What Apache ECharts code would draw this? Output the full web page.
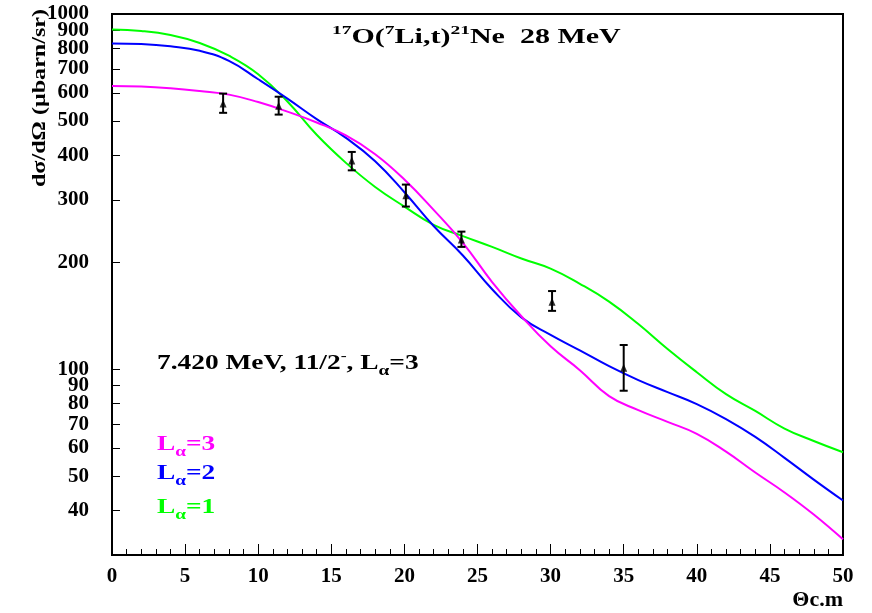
<!DOCTYPE html>
<html>
<head>
<meta charset="utf-8">
<script src="https://cdn.jsdelivr.net/npm/echarts@6/dist/echarts.min.js"></script>
<style>
  html, body { margin: 0; padding: 0; background: #fff; }
  #chart { width: 872px; height: 613px; }
</style>
</head>
<body>
<div id="chart"></div>
<script>
// Measured angular distribution, 17O(7Li,t)21Ne at 28 MeV, 7.420 MeV state
const expAngle = [7.6, 11.4, 16.4, 20.1, 23.9, 30.1, 35.0];
const expSigma = [560, 552, 387, 309, 232, 155, 101];
const expLow   = [527, 521, 363, 287, 221, 146, 87];
const expHigh  = [597, 585, 409, 331, 244, 166, 117];

// Calculated curves for the three transferred angular momenta
const curveAngle = [0, 2, 4, 6, 8, 10, 12, 14, 16, 18, 20, 22, 24, 26, 28, 30, 32, 34, 36, 38, 40, 42, 44, 46, 48, 50];
const sigmaL1 = [904, 896, 873, 829, 763, 677, 567, 457, 381, 326, 287, 255, 237, 221, 205, 192, 174, 155, 134, 114, 98.1, 85.1, 76.3, 68.1, 62.8, 58.4];
const sigmaL2 = [826, 823, 811, 788, 738, 655, 578, 506, 448, 385, 315, 253, 209, 168, 140, 125, 113, 102, 93.2, 86.2, 79.8, 72.4, 64.5, 56.3, 48.9, 42.7];
const sigmaL3 = [627, 625, 618, 607, 593, 565, 531, 495, 455, 403, 342, 281, 227, 176, 141, 116, 99.4, 84.0, 76.7, 71.1, 65.8, 58.6, 51.2, 45.0, 39.0, 33.2];

// Axis ticks; the labels are listed so that the first two and the last two
// entries sit far apart, which keeps the crowded 900/1000 pair both visible
const yTickValues  = [40, 50, 60, 70, 80, 90, 100, 200, 300, 400, 500, 600, 700, 800, 900, 1000];
const yLabelValues = [40, 900, 50, 60, 70, 80, 90, 100, 200, 300, 400, 500, 600, 700, 800, 1000];

const zip = (xs, ys) => xs.map((x, i) => [x, ys[i]]);
const serif = '"Liberation Serif", "Times New Roman", serif';

const chart = echarts.init(document.getElementById('chart'), null, { renderer: 'canvas' });

const curve = (name, xs, ys, color) => ({
  name, type: 'line', data: zip(xs, ys), smooth: 0.45, showSymbol: false,
  lineStyle: { color, width: 2 }, z: 3
});

// Wide bold serif text block (left/top anchored) with a horizontal stretch
const wideText = (x, y, text, rich, stretch) => ({
  type: 'text', x, y, scaleX: stretch, originX: 0, originY: 0,
  style: { text, rich, x: 0, y: 0, align: 'left', verticalAlign: 'top' }
});
const richSet = (c, size) => ({
  m: { fontFamily: serif, fontWeight: 'bold', fontSize: size, lineHeight: size + 8, fill: c },
  sup: { fontFamily: serif, fontWeight: 'bold', fontSize: 13, lineHeight: 13, verticalAlign: 'top', fill: c },
  sub: { fontFamily: serif, fontWeight: 'bold', fontSize: 14, lineHeight: 14, verticalAlign: 'bottom', fill: c }
});

chart.setOption({
  animation: false,
  backgroundColor: '#fff',
  grid: { left: 112, right: 29, top: 14, bottom: 58, show: true, borderColor: '#000', borderWidth: 2, backgroundColor: 'transparent' },
  xAxis: {
    type: 'value', min: 0, max: 50, interval: 5,
    axisLine: { lineStyle: { color: '#000', width: 2 } },
    axisTick: { inside: true, length: 11, lineStyle: { color: '#000', width: 1 } },
    minorTick: { show: true, splitNumber: 5, length: 6, lineStyle: { color: '#000', width: 1 } },
    splitLine: { show: false },
    axisLabel: { color: '#000', fontFamily: serif, fontWeight: 'bold', fontSize: 21, margin: 11, showMinLabel: true, showMaxLabel: true },
    name: 'Θc.m', nameLocation: 'end', nameGap: 0,
    nameTextStyle: { color: '#000', fontFamily: serif, fontWeight: 'bold', fontSize: 22, align: 'right', verticalAlign: 'top', padding: [34, 0, 0, 0] }
  },
  yAxis: {
    type: 'log', logBase: 10, min: 30, max: 1000,
    axisLine: { lineStyle: { color: '#000', width: 2 } },
    axisTick: { inside: true, length: 8, customValues: yTickValues, lineStyle: { color: '#000', width: 1 } },
    splitLine: { show: false },
    axisLabel: {
      color: '#000', margin: 23, fontFamily: serif, fontWeight: 'bold', fontSize: 21,
      customValues: yLabelValues, hideOverlap: false,
      formatter: v => String(Math.round(v))
    }
  },
  graphic: [
    wideText(332, 24, '{sup|17}{m|O(}{sup|7}{m|Li,t)}{sup|21}{m|Ne  28 MeV}', richSet('#000', 20), 1.5),
    wideText(157, 350, '{m|7.420 MeV, 11/2}{sup|-}{m|, L}{sub|α}{m|=3}', richSet('#000', 20), 1.37),
    wideText(157, 431, '{m|L}{sub|α}{m|=3}', richSet('#ff00ff', 20), 1.37),
    wideText(157, 460, '{m|L}{sub|α}{m|=2}', richSet('#0000ff', 20), 1.37),
    wideText(157, 494, '{m|L}{sub|α}{m|=1}', richSet('#00ff00', 20), 1.37),
    {
      type: 'text', x: 40, y: 98, rotation: Math.PI / 2, scaleX: 1.27, originX: 0, originY: 0,
      style: {
        text: 'dσ/dΩ (μbarn/sr)', x: 0, y: 0, align: 'center', verticalAlign: 'middle',
        font: 'bold 19px ' + serif, fill: '#000'
      }
    }
  ],
  series: [
    curve('Lα=1', curveAngle, sigmaL1, '#00ff00'),
    curve('Lα=2', curveAngle, sigmaL2, '#0000ff'),
    curve('Lα=3', curveAngle, sigmaL3, '#ff00ff'),
    {
      name: 'errors', type: 'custom', z: 5,
      data: expAngle.map((x, i) => [x, expLow[i], expHigh[i]]),
      renderItem: (params, api) => {
        const x = api.value(0);
        const lo = api.coord([x, api.value(1)]);
        const hi = api.coord([x, api.value(2)]);
        const cap = 4;
        const st = { stroke: '#000', lineWidth: 2 };
        return {
          type: 'group',
          children: [
            { type: 'line', shape: { x1: lo[0], y1: lo[1], x2: hi[0], y2: hi[1] }, style: st },
            { type: 'line', shape: { x1: lo[0] - cap, y1: lo[1], x2: lo[0] + cap, y2: lo[1] }, style: st },
            { type: 'line', shape: { x1: hi[0] - cap, y1: hi[1], x2: hi[0] + cap, y2: hi[1] }, style: st }
          ]
        };
      }
    },
    {
      name: 'data', type: 'scatter', z: 6, symbol: 'triangle', symbolSize: [7, 8],
      itemStyle: { color: '#000' },
      data: zip(expAngle, expSigma)
    }
  ]
});
</script>
</body>
</html>
